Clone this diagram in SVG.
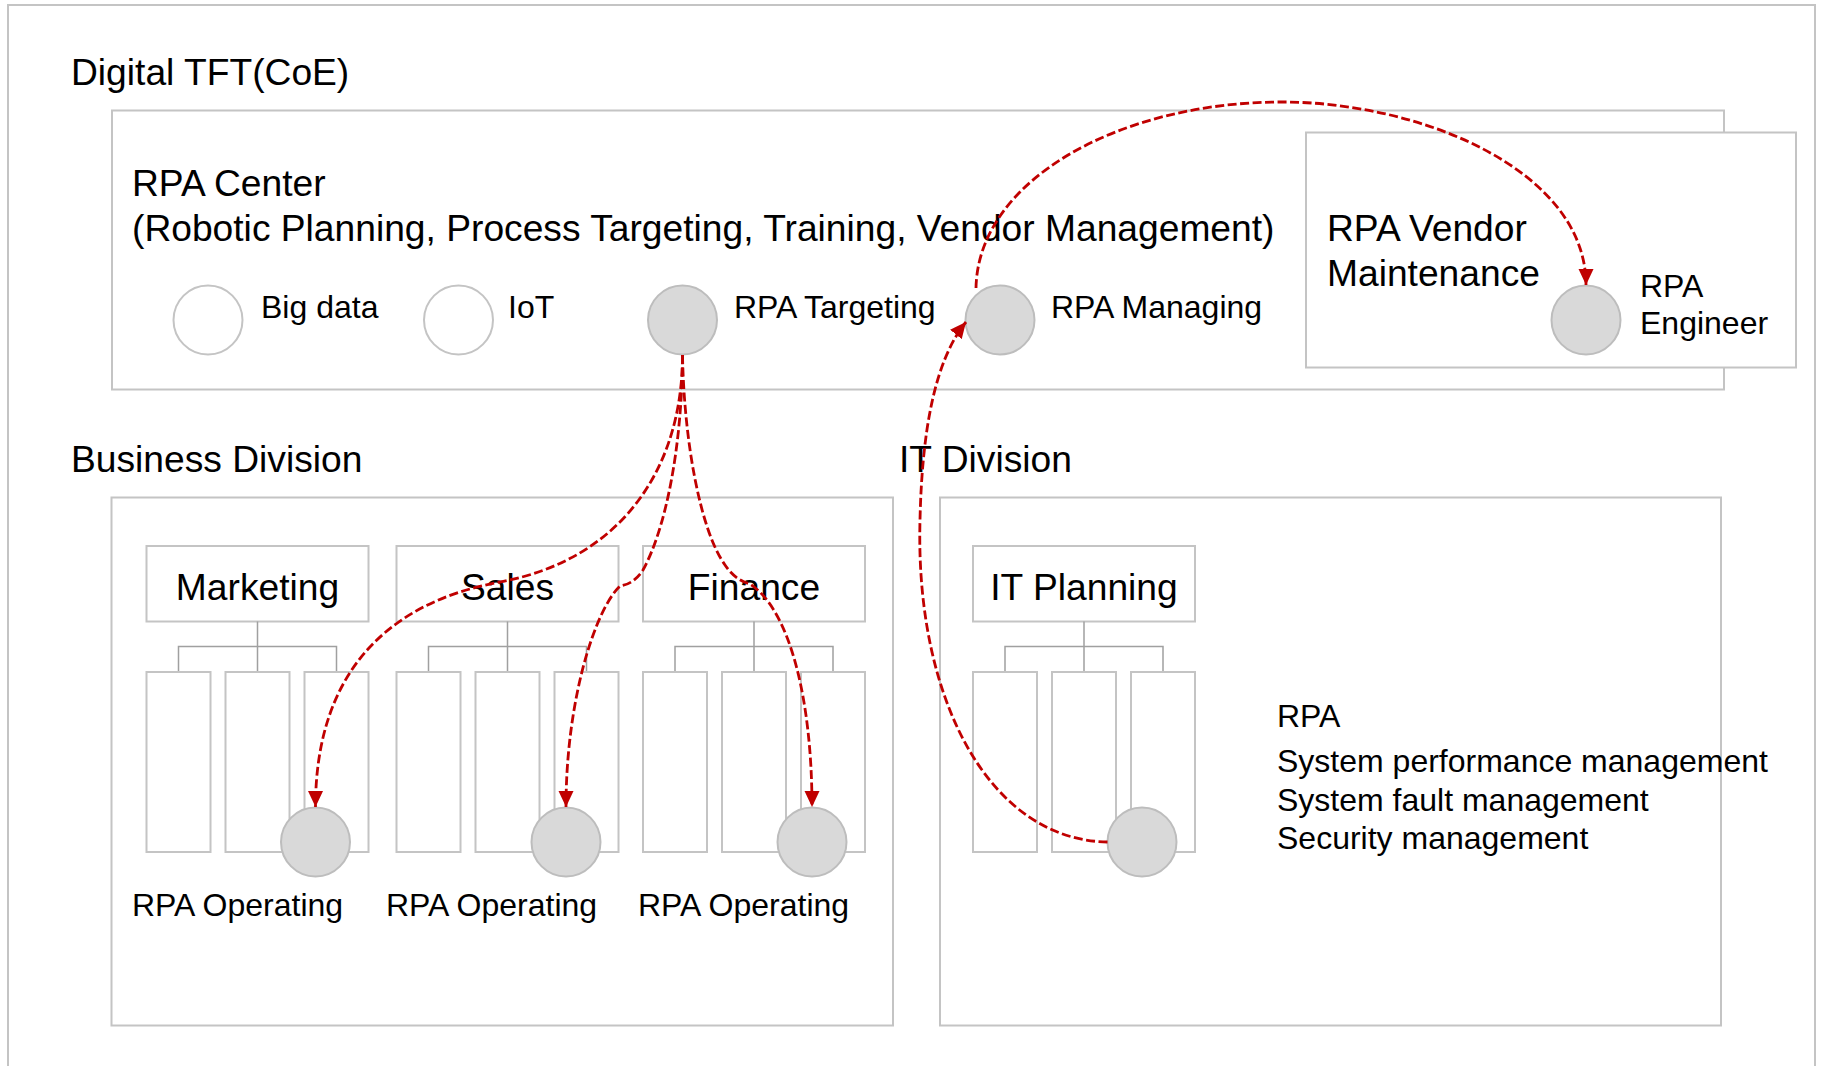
<svg xmlns="http://www.w3.org/2000/svg" width="1823" height="1066" viewBox="0 0 1823 1066">
  <style>
    .frame { fill: #ffffff; stroke: #c4c4c4; stroke-width: 2; }
    .box { fill: #ffffff; stroke: #c4c4c4; stroke-width: 2; }
    .tree { fill: none; stroke: #a0a0a0; stroke-width: 1.5; }
    .node-empty { fill: #ffffff; stroke: #c4c4c4; stroke-width: 2; }
    .node-fill { fill: #d9d9d9; stroke: #bdbdbd; stroke-width: 2; }
    .big { font-family: "Liberation Sans", Arial, sans-serif; font-size: 37.2px; fill: #000000; }
    .small { font-family: "Liberation Sans", Arial, sans-serif; font-size: 32px; fill: #000000; }
    .mid { text-anchor: middle; }
    .link { fill: none; stroke: #c00000; stroke-width: 2.8; stroke-dasharray: 9 3.5; }
  </style>
  <defs>
    <marker id="arrow" markerUnits="userSpaceOnUse" markerWidth="17" markerHeight="16" viewBox="0 0 17 16" refX="16" refY="8" orient="auto">
      <path d="M0,0.5 L16,8 L0,15.5 Z" fill="#c00000"/>
    </marker>
  </defs>

  <rect width="1823" height="1066" fill="#ffffff"/>

  <!-- outer CoE frame -->
  <g id="digital-tft">
    <rect class="frame" x="8" y="5" width="1807" height="1090"/>
    <text class="big" x="71" y="85">Digital TFT(CoE)</text>
  </g>

  <!-- RPA Center -->
  <g id="rpa-center">
    <rect class="box" x="112" y="110.5" width="1612" height="279"/>
    <text class="big" x="132" y="196">RPA Center</text>
    <text class="big" x="132" y="241">(Robotic Planning, Process Targeting, Training, Vendor Management)</text>
  </g>
  <g id="big-data">
    <circle class="node-empty" cx="208" cy="320" r="34.5"/>
    <text class="small" x="261" y="318">Big data</text>
  </g>
  <g id="iot">
    <circle class="node-empty" cx="458.5" cy="320" r="34.5"/>
    <text class="small" x="508" y="318">IoT</text>
  </g>
  <g id="rpa-targeting">
    <circle class="node-fill" cx="682.5" cy="320" r="34.5"/>
    <text class="small" x="734" y="318">RPA Targeting</text>
  </g>
  <g id="rpa-managing">
    <circle class="node-fill" cx="1000" cy="320" r="34.5"/>
    <text class="small" x="1051" y="318">RPA Managing</text>
  </g>

  <!-- RPA Vendor Maintenance -->
  <g id="rpa-vendor">
    <rect class="box" x="1306" y="132.5" width="490" height="235"/>
    <text class="big" x="1327" y="241">RPA Vendor</text>
    <text class="big" x="1327" y="286">Maintenance</text>
  </g>
  <g id="rpa-engineer">
    <circle class="node-fill" cx="1586" cy="320" r="34.5"/>
    <text class="small" x="1640" y="297">RPA</text>
    <text class="small" x="1640" y="334">Engineer</text>
  </g>

  <!-- Business Division -->
  <g id="business-division">
    <text class="big" x="71" y="472">Business Division</text>
    <rect class="box" x="111.5" y="497.5" width="781.5" height="528"/>
  </g>

  <g id="marketing">
    <rect class="box" x="146.5" y="546" width="222" height="75.5"/>
    <text class="big mid" x="257.5" y="600">Marketing</text>
    <path class="tree" d="M257.5,621.5 V672 M178.5,672 V646.5 H336.5 V672"/>
    <rect class="box" x="146.5" y="672" width="64" height="180"/>
    <rect class="box" x="225.5" y="672" width="64" height="180"/>
    <rect class="box" x="304.5" y="672" width="64" height="180"/>
  </g>
  <g id="sales">
    <rect class="box" x="396.5" y="546" width="222" height="75.5"/>
    <text class="big mid" x="507.5" y="600">Sales</text>
    <path class="tree" d="M507.5,621.5 V672 M428.5,672 V646.5 H586.5 V672"/>
    <rect class="box" x="396.5" y="672" width="64" height="180"/>
    <rect class="box" x="475.5" y="672" width="64" height="180"/>
    <rect class="box" x="554.5" y="672" width="64" height="180"/>
  </g>
  <g id="finance">
    <rect class="box" x="643" y="546" width="222" height="75.5"/>
    <text class="big mid" x="754" y="600">Finance</text>
    <path class="tree" d="M754,621.5 V672 M675,672 V646.5 H833 V672"/>
    <rect class="box" x="643" y="672" width="64" height="180"/>
    <rect class="box" x="722" y="672" width="64" height="180"/>
    <rect class="box" x="801" y="672" width="64" height="180"/>
  </g>

  <g id="rpa-operating-marketing">
    <circle class="node-fill" cx="315.5" cy="842" r="34.5"/>
    <text class="small" x="132" y="916">RPA Operating</text>
  </g>
  <g id="rpa-operating-sales">
    <circle class="node-fill" cx="566" cy="842" r="34.5"/>
    <text class="small" x="386" y="916">RPA Operating</text>
  </g>
  <g id="rpa-operating-finance">
    <circle class="node-fill" cx="812" cy="842" r="34.5"/>
    <text class="small" x="638" y="916">RPA Operating</text>
  </g>

  <!-- IT Division -->
  <g id="it-division">
    <text class="big" x="899" y="472">IT Division</text>
    <rect class="box" x="940" y="497.5" width="781" height="528"/>
  </g>
  <g id="it-planning">
    <rect class="box" x="973" y="546" width="222" height="75.5"/>
    <text class="big mid" x="1084" y="600">IT Planning</text>
    <path class="tree" d="M1084,621.5 V672 M1005,672 V646.5 H1163 V672"/>
    <rect class="box" x="973" y="672" width="64" height="180"/>
    <rect class="box" x="1052" y="672" width="64" height="180"/>
    <rect class="box" x="1131" y="672" width="64" height="180"/>
  </g>
  <g id="rpa-it">
    <circle class="node-fill" cx="1142" cy="842" r="34.5"/>
  </g>
  <g id="it-duties">
    <text class="small" x="1277" y="727">RPA</text>
    <text class="small" x="1277" y="772">System performance management</text>
    <text class="small" x="1277" y="811">System fault management</text>
    <text class="small" x="1277" y="849">Security management</text>
  </g>

  <!-- dashed red connectors -->
  <g id="connectors">
    <path class="link" marker-end="url(#arrow)" d="M682.5,355 C682.5,470 620,560 500,582 C380,604 315.5,680 315.5,807"/>
    <path class="link" marker-end="url(#arrow)" d="M682.5,355 C682,450 665,530 643,570 Q634,584 620,586 C595,610 566,700 566,807"/>
    <path class="link" marker-end="url(#arrow)" d="M682.5,355 C684,440 700,530 725,565 Q735,580 750,584 C790,610 812,700 812,807"/>
    <path class="link" marker-end="url(#arrow)" d="M1107.5,842 C990,840 915,700 920,520 C922,430 935,360 966,322"/>
    <path class="link" marker-end="url(#arrow)" d="M976,288 C978,180 1120,102 1282,102 C1420,102 1586,170 1586,285"/>
  </g>
</svg>
